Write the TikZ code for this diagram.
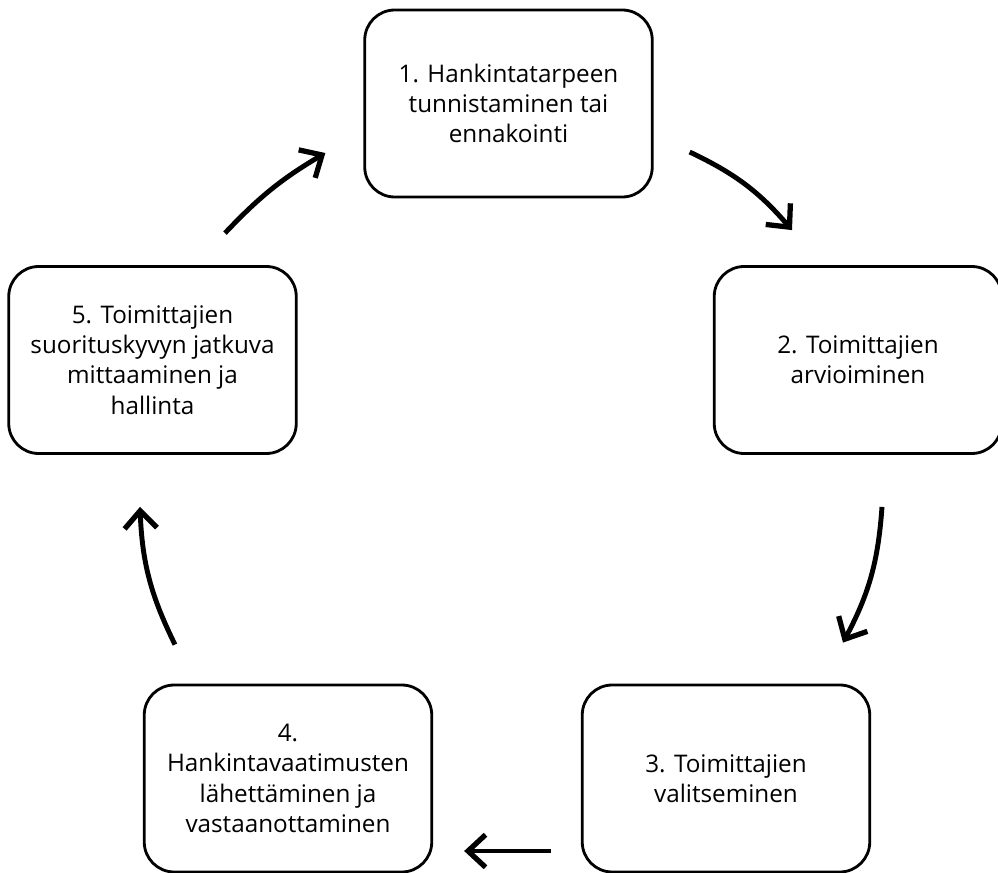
\documentclass[tikz,border=0pt]{standalone}
\usepackage{fontspec}
\setmainfont{Open Sans}
\usetikzlibrary{
  arrows.meta,
  calc,
  positioning,
}

\begin{document}
\begin{tikzpicture}[vaihe/.style={draw, line width=1.6pt, rounded corners=0.6cm, minimum width=5.75cm, minimum height=3.74cm, align=center, font=\fontsize{13.8}{17.2}\selectfont},
  nuoli/.style={line width=2.8pt, -{Straight Barb[length=3.5mm, width=6.5mm, line width=3pt]}}]
\useasboundingbox (0,0) rectangle (19.96,-17.46);
\node[vaihe] (v1) at (10.17,-2.07) {1. Hankintatarpeen\\tunnistaminen tai\\ennakointi};
\node[vaihe] (v2) at (17.16,-7.2) {2. Toimittajien\\arvioiminen};
\node[vaihe] (v3) at (14.52,-15.57) {3. Toimittajien\\valitseminen};
\node[vaihe] (v4) at (5.76,-15.57) {4.\\Hankintavaatimusten\\lähettäminen ja\\vastaanottaminen};
\node[vaihe] (v5) at (3.05,-7.2) {5. Toimittajien\\suorituskyvyn jatkuva\\mittaaminen ja\\hallinta};

\draw[nuoli] ($(v1.east)+(0.72,-0.97)$) to[bend left=12] ($(v2.north)+(-1.32,0.7)$);
\draw[nuoli] ($(v2.south)+(0.48,-1.04)$) to[bend left=12] ($(v3.north)+(2.34,0.82)$);
\draw[nuoli] ($(v3.west)+(-0.6,-1.45)$) -- ($(v4.east)+(0.62,-1.45)$);
\draw[nuoli] ($(v4.north)+(-2.26,0.78)$) to[bend left=12] ($(v5.south)+(-0.25,-1.04)$);
\draw[nuoli] ($(v5.north)+(1.45,0.64)$) to[bend left=8] ($(v1.west)+(-0.76,-0.99)$);
\end{tikzpicture}
\end{document}
